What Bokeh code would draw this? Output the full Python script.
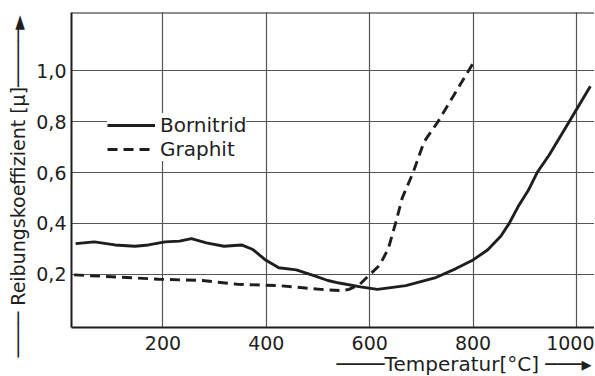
from bokeh.plotting import figure
from bokeh.models import (FixedTicker, Legend, LegendItem, Title, Span, Range1d)
from bokeh.embed import file_html
from bokeh.resources import INLINE

# ---- data ----
bornitrid_t = [31, 67, 107, 146, 172, 204, 232, 255, 284, 318, 352, 374, 397, 424, 458, 492,
               519, 541, 582, 615, 670, 726, 767, 800, 828, 854, 870, 887, 907, 924, 947, 986, 1027]
bornitrid_mu = [0.32, 0.327, 0.315, 0.31, 0.315, 0.327, 0.33, 0.34, 0.323, 0.31, 0.315, 0.297,
                0.258, 0.225, 0.217, 0.194, 0.175, 0.165, 0.15, 0.14, 0.155, 0.185, 0.222, 0.256,
                0.295, 0.35, 0.40, 0.465, 0.53, 0.60, 0.668, 0.80, 0.94]
graphit_t = [28, 100, 192, 276, 344, 424, 505, 546, 560, 581, 601, 619, 636, 650, 663, 684, 705, 732, 800]
graphit_mu = [0.197, 0.19, 0.18, 0.175, 0.16, 0.155, 0.14, 0.135, 0.14, 0.16, 0.2, 0.235, 0.3,
              0.4, 0.5, 0.6, 0.72, 0.8, 1.03]

x_ticks = [200, 400, 600, 800, 1000]
y_ticks = [0.2, 0.4, 0.6, 0.8, 1.0]
y_tick_labels = ["0,2", "0,4", "0,6", "0,8", "1,0"]
series_names = ["Bornitrid", "Graphit"]
x_title = "Temperatur[°C]"
y_title = "Reibungskoeffizient [μ]"

FONT = "DejaVu Sans"
INK = "#1e1e1e"
GRID = "#555555"

p = figure(width=594, height=375, output_backend="svg", toolbar_location=None,
           x_range=Range1d(23, 1035), y_range=Range1d(-0.01, 1.23),
           min_border_left=71, min_border_right=0, min_border_top=12, min_border_bottom=48)
p.outline_line_color = None
p.background_fill_color = "white"
p.border_fill_color = "white"

for ax in (p.xaxis[0], p.yaxis[0]):
    ax.axis_line_width = 2
    ax.axis_line_color = INK
    ax.major_tick_line_color = None
    ax.minor_tick_line_color = None
    ax.major_tick_out = 0
    ax.major_tick_in = 0
    ax.major_label_text_font = FONT
    ax.major_label_text_font_size = "19px"
    ax.major_label_text_color = INK
    ax.major_label_standoff = 5
p.xaxis.major_label_standoff = 8

p.xaxis.ticker = FixedTicker(ticks=x_ticks)
p.yaxis.ticker = FixedTicker(ticks=y_ticks)
p.yaxis.major_label_overrides = {t: l for t, l in zip(y_ticks, y_tick_labels)}

p.xgrid.ticker = FixedTicker(ticks=x_ticks)
p.ygrid.ticker = FixedTicker(ticks=y_ticks)
for g in (p.xgrid[0], p.ygrid[0]):
    g.grid_line_color = GRID
    g.grid_line_width = 1.2

# top border
p.add_layout(Span(location=1.23, dimension="width", line_color=INK, line_width=2))

r1 = p.line(bornitrid_t, bornitrid_mu, line_color=INK, line_width=2.9, line_join="round")
r2 = p.line(graphit_t, graphit_mu, line_color=INK, line_width=2.9, line_dash="10 6")

legend = Legend(items=[LegendItem(label=series_names[0], renderers=[r1]),
                       LegendItem(label=series_names[1], renderers=[r2])],
                location=(36, 166), orientation="vertical",
                glyph_width=48, glyph_height=20, label_height=20, label_standoff=5,
                spacing=-4, padding=5, margin=0,
                label_text_font=FONT, label_text_font_size="20px", label_text_color=INK,
                background_fill_color="white", background_fill_alpha=1.0,
                border_line_color=None)
p.add_layout(legend)

# axis titles with their arrow lines, as side-panel titles
ytitle = Title(text="──── " + y_title + "─────►", align="left", offset=-30,
               vertical_align="middle", standoff=8,
               text_font=FONT, text_font_size="19px", text_font_style="normal", text_color=INK)
p.add_layout(ytitle, "left")

xtitle = Title(text="────" + x_title + " ───▸", align="right", offset=3,
               vertical_align="bottom", standoff=-5, text_baseline="alphabetic",
               text_font=FONT, text_font_size="20px", text_font_style="normal", text_color=INK)
p.add_layout(xtitle, "below")

open("out.html", "w").write(file_html(p, INLINE))
